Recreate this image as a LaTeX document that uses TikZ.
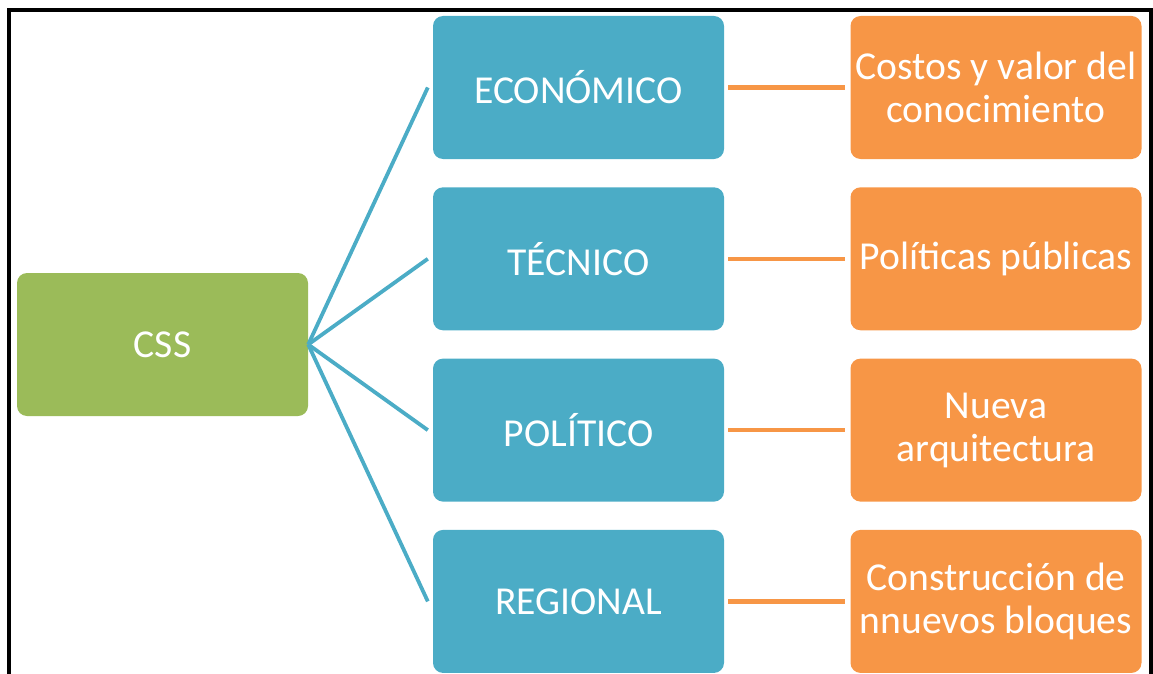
\documentclass[tikz,border=0pt]{standalone}
\usepackage{fontspec}
\setmainfont{Carlito}
\definecolor{cssgreen}{HTML}{9BBB59}
\definecolor{areablue}{HTML}{4BACC6}
\definecolor{topicorange}{HTML}{F79646}
\begin{document}
\begin{tikzpicture}[x=1pt,y=-1pt,box/.style={shape=rectangle,rounded corners=10pt,minimum width=291pt,minimum height=143pt,inner sep=0pt,text=white,align=center,font=\fontsize{39.6}{43}\selectfont},root/.style={box,fill=cssgreen},area/.style={box,fill=areablue},topic/.style={box,fill=topicorange},arealine/.style={draw=areablue,line width=3.8pt},topicline/.style={draw=topicorange,line width=4.2pt}]
\def\xa{162.5};
\def\xb{578.5};
\def\xc{996};
\def\ya{87.5};
\def\dy{171.3};

\useasboundingbox (0,0) rectangle (1153,674);
\draw[line width=4pt] (9,674) -- (9,10) -- (1151,10) -- (1151,674);

\node[root] (CSS) at (\xa,344.5) {CSS};

\node[area] (Eco) at (\xb,\ya) {ECONÓMICO};
\draw[arealine] (CSS.east) -- ([xshift=-5pt]Eco.west);
\node[topic] (Costos) at (\xc,\ya) {Costos y valor del\\conocimiento};
\draw[topicline] ([xshift=4pt]Eco.east) -- ([xshift=-5pt]Costos.west);

\node[area] (Tec) at (\xb,\ya+\dy) {TÉCNICO};
\draw[arealine] (CSS.east) -- ([xshift=-5pt]Tec.west);
\node[topic] (Polit) at (\xc,\ya+\dy) {Políticas públicas};
\draw[topicline] ([xshift=4pt]Tec.east) -- ([xshift=-5pt]Polit.west);

\node[area] (Pol) at (\xb,\ya+2*\dy) {POLÍTICO};
\draw[arealine] (CSS.east) -- ([xshift=-5pt]Pol.west);
\node[topic] (Arq) at (\xc,\ya+2*\dy) {Nueva\\arquitectura};
\draw[topicline] ([xshift=4pt]Pol.east) -- ([xshift=-5pt]Arq.west);

\node[area] (Reg) at (\xb,\ya+3*\dy) {REGIONAL};
\draw[arealine] (CSS.east) -- ([xshift=-5pt]Reg.west);
\node[topic] (Bloq) at (\xc,\ya+3*\dy) {Construcción de\\nnuevos bloques};
\draw[topicline] ([xshift=4pt]Reg.east) -- ([xshift=-5pt]Bloq.west);
\end{tikzpicture}
\end{document}
